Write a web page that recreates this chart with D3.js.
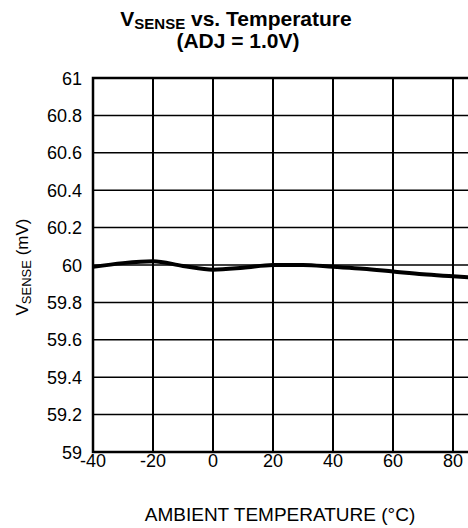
<!DOCTYPE html>
<html>
<head>
<meta charset="utf-8">
<script src="https://cdn.jsdelivr.net/npm/d3@7"></script>
<style>
  html, body { margin: 0; padding: 0; background: #fff; }
  svg { display: block; font-family: "Liberation Sans", Arial, sans-serif; }
</style>
</head>
<body>
<div id="chart"></div>
<script>
// Data
const temps = [-40, -30, -20, -10, 0, 10, 20, 30, 40, 50, 60, 70, 80, 90];
const vsense = [59.99, 60.01, 60.02, 59.995, 59.975, 59.985, 60.0, 60.0, 59.99, 59.98, 59.965, 59.95, 59.94, 59.93];
const xTicks = [-40, -20, 0, 20, 40, 60, 80, 100, 120];
const xLabels = [-40, -20, 0, 20, 40, 60, 80];
const yTicks = [59, 59.2, 59.4, 59.6, 59.8, 60, 60.2, 60.4, 60.6, 60.8, 61];

const width = 468, height = 528;
const plotLeft = 93, plotTop = 78, plotBottom = 452;

// the plot runs off the right edge of the picture
const x = d3.scaleLinear().domain([-40, 125]).range([plotLeft, plotLeft + 165 * 3]);
const y = d3.scaleLinear().domain([59, 61]).range([plotBottom, plotTop]);

const svg = d3.select('#chart').append('svg')
    .attr('width', width)
    .attr('height', height);

// Grid
svg.append('g')
    .selectAll('line')
    .data(yTicks)
    .enter()
    .append('line')
    .attr('x1', x(-40)).attr('x2', x(125))
    .attr('y1', d => y(d)).attr('y2', d => y(d))
    .attr('stroke', '#000')
    .attr('stroke-width', 1.5);

svg.append('g')
    .selectAll('line')
    .data(xTicks)
    .enter()
    .append('line')
    .attr('x1', d => x(d)).attr('x2', d => x(d))
    .attr('y1', plotTop).attr('y2', plotBottom)
    .attr('stroke', '#000')
    .attr('stroke-width', 2);

// Border
svg.append('rect')
    .attr('x', x(-40)).attr('y', plotTop)
    .attr('width', x(125) - x(-40)).attr('height', plotBottom - plotTop)
    .attr('fill', 'none')
    .attr('stroke', '#000')
    .attr('stroke-width', 2.5);

// Curve
const line = d3.line()
    .x(d => x(d[0]))
    .y(d => y(d[1]))
    .curve(d3.curveMonotoneX);

svg.append('path')
    .datum(temps.map((t, i) => [t, vsense[i]]))
    .attr('d', line)
    .attr('fill', 'none')
    .attr('stroke', '#000')
    .attr('stroke-width', 4);

// Tick labels
svg.append('g')
    .selectAll('text')
    .data(yTicks)
    .enter()
    .append('text')
    .attr('x', 82)
    .attr('y', d => y(d) + 6.5)
    .attr('text-anchor', 'end')
    .attr('font-size', 18)
    .text(d => +d.toFixed(1));

svg.append('g')
    .selectAll('text')
    .data(xLabels)
    .enter()
    .append('text')
    .attr('x', d => x(d))
    .attr('y', plotBottom + 15)
    .attr('text-anchor', 'middle')
    .attr('font-size', 18)
    .text(d => d);

// Axis titles
svg.append('text')
    .attr('x', 280)
    .attr('y', 521)
    .attr('text-anchor', 'middle')
    .attr('font-size', 19)
    .text('AMBIENT TEMPERATURE (°C)');

const yTitle = svg.append('text')
    .attr('transform', 'translate(28, 267) rotate(-90)')
    .attr('text-anchor', 'middle')
    .attr('font-size', 17);
yTitle.append('tspan').text('V');
yTitle.append('tspan').attr('font-size', 13).attr('dy', 3).text('SENSE');
yTitle.append('tspan').attr('dy', -3).text(' (mV)');

// Chart title
const title = svg.append('text')
    .attr('x', 236)
    .attr('y', 26)
    .attr('text-anchor', 'middle')
    .attr('font-size', 21)
    .attr('font-weight', 'bold');
title.append('tspan').text('V');
title.append('tspan').attr('font-size', 15).attr('dy', 3).text('SENSE');
title.append('tspan').attr('dy', -3).text(' vs. Temperature');

svg.append('text')
    .attr('x', 238)
    .attr('y', 48)
    .attr('text-anchor', 'middle')
    .attr('font-size', 21)
    .attr('font-weight', 'bold')
    .text('(ADJ = 1.0V)');
</script>
</body>
</html>
